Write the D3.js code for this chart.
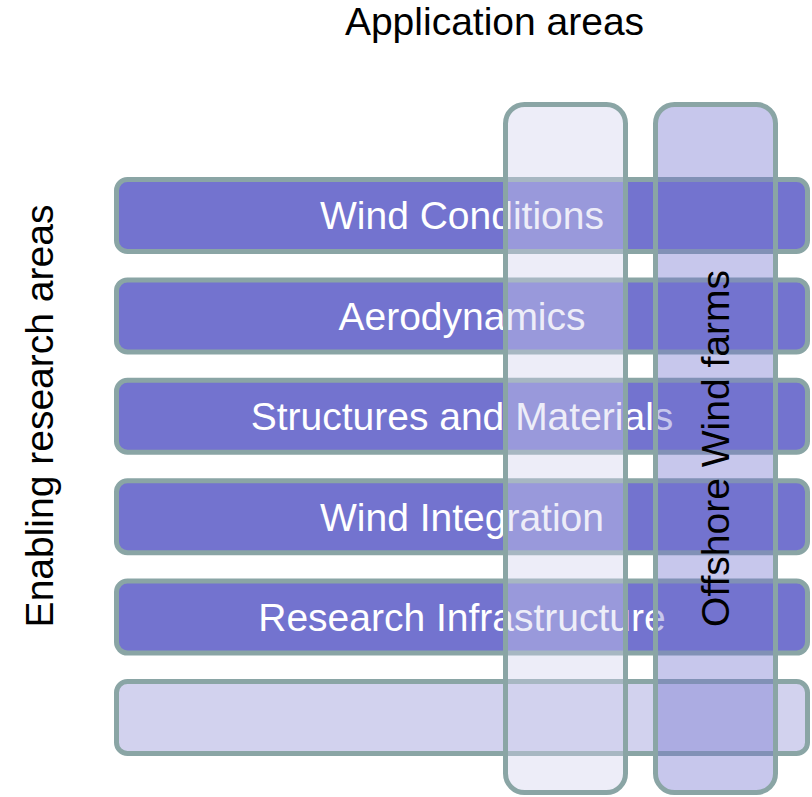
<!DOCTYPE html>
<html>
<head>
<meta charset="utf-8">
<script src="https://cdn.jsdelivr.net/npm/d3@7"></script>
<style>
  html, body { margin: 0; padding: 0; background: #ffffff; }
  svg { display: block; }
</style>
</head>
<body>
<div id="chart"></div>
<script>
// ---- data ----
const rowLabels = ["Wind Conditions", "Aerodynamics", "Structures and Materials", "Wind Integration", "Research Infrastructure", ""];
const rowFills = ["#7373CF", "#7373CF", "#7373CF", "#7373CF", "#7373CF", "#D2D2EE"];
const columnLabels = ["", "Offshore Wind farms"];
const columnFills = ["#D2D2EE", "#7373CF"];
const title = "Application areas";
const sideTitle = "Enabling research areas";

// ---- layout ----
const W = 812, H = 797;
const stroke = "#8AA5A5";
const fontFamily = "Liberation Sans, Arial, Helvetica, sans-serif";
const fontSize = 39;

const svg = d3.select("#chart").append("svg")
  .attr("width", W).attr("height", H);

const rowPad = 0.283;
const yRow = d3.scaleBand()
  .domain(d3.range(rowLabels.length))
  .range([179.5, 179.5 + 100.4 * (rowLabels.length - rowPad)])
  .paddingInner(rowPad).paddingOuter(0);

const colPad = 0.2;
const xCol = d3.scaleBand()
  .domain(d3.range(columnLabels.length))
  .range([505.5, 505.5 + 150 * (columnLabels.length - colPad)])
  .paddingInner(colPad).paddingOuter(0);

const rowX0 = 116.5, rowX1 = 807.5;
const colY0 = 104.5, colY1 = 792.5;

// rows
const rows = svg.append("g").selectAll("g").data(rowLabels).join("g");
rows.append("rect")
  .attr("x", rowX0)
  .attr("y", (d, i) => yRow(i))
  .attr("width", rowX1 - rowX0)
  .attr("height", yRow.bandwidth())
  .attr("rx", 11).attr("ry", 11)
  .attr("fill", (d, i) => rowFills[i])
  .attr("stroke", stroke)
  .attr("stroke-width", 5);
rows.append("text")
  .attr("x", (rowX0 + rowX1) / 2)
  .attr("y", (d, i) => yRow(i) + yRow.bandwidth() / 2 + fontSize * 0.355)
  .attr("text-anchor", "middle")
  .attr("font-family", fontFamily)
  .attr("font-size", fontSize)
  .attr("fill", "#ffffff")
  .text(d => d);

// columns
const cols = svg.append("g").selectAll("g").data(columnLabels).join("g");
cols.append("rect")
  .attr("x", (d, i) => xCol(i))
  .attr("y", colY0)
  .attr("width", xCol.bandwidth())
  .attr("height", colY1 - colY0)
  .attr("rx", 19).attr("ry", 19)
  .attr("fill", (d, i) => columnFills[i])
  .attr("fill-opacity", 0.4)
  .attr("stroke", stroke)
  .attr("stroke-width", 5);
cols.append("text")
  .attr("transform", (d, i) => {
    const cx = xCol(i) + xCol.bandwidth() / 2 + fontSize * 0.355;
    const cy = (colY0 + colY1) / 2;
    return `translate(${cx},${cy}) rotate(-90)`;
  })
  .attr("text-anchor", "middle")
  .attr("font-family", fontFamily)
  .attr("font-size", fontSize)
  .attr("fill", "#000000")
  .text(d => d);

// titles
svg.append("text")
  .attr("x", 494.5).attr("y", 35)
  .attr("text-anchor", "middle")
  .attr("font-family", fontFamily)
  .attr("font-size", fontSize)
  .attr("fill", "#000000")
  .text(title);

svg.append("text")
  .attr("transform", "translate(53,416) rotate(-90)")
  .attr("text-anchor", "middle")
  .attr("font-family", fontFamily)
  .attr("font-size", fontSize)
  .attr("fill", "#000000")
  .text(sideTitle);
</script>
</body>
</html>
